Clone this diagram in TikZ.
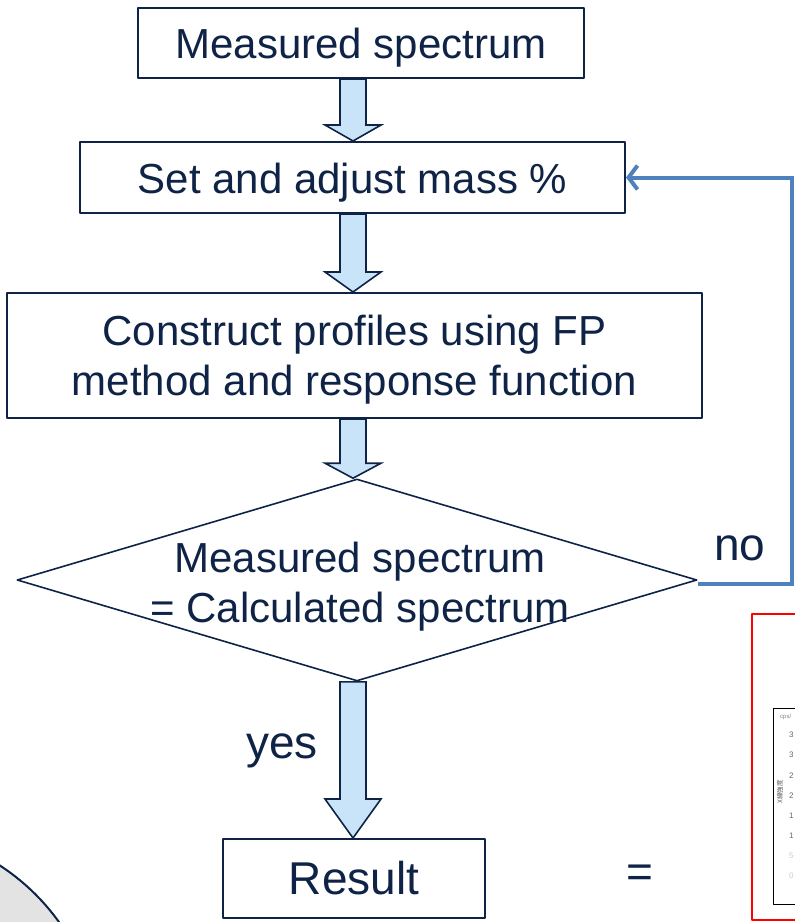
\documentclass[tikz,border=0pt]{standalone}
\usepackage{fontspec}
\setmainfont{Liberation Sans}
\newfontfamily\jpfont{Noto Sans CJK JP}
\usetikzlibrary{calc,shapes.geometric,arrows.meta}
\definecolor{navy}{HTML}{0E2346}
\definecolor{arrowfill}{HTML}{C9E4F8}
\definecolor{loopblue}{HTML}{4F81BD}
\newcommand\droptext[1]{\raisebox{-5pt}[\height][\depth]{#1}}

\begin{document}
\begin{tikzpicture}[x=1pt,y=-1pt,line join=round,
	procbox/.style={draw=navy,line width=2pt,inner sep=0pt,text=navy,align=center,font=\fontsize{42}{50}\selectfont},
	blockarrow/.style={draw=navy,fill=arrowfill,line width=1.6pt,line join=miter},
	lbl/.style={text=navy,inner sep=0pt,font=\fontsize{46}{50}\selectfont}]
	\useasboundingbox (0,0) rectangle (795,922);
	\clip (0,0) rectangle (795,922);
	% disc in the lower left corner
	\draw[navy,line width=2pt,fill=gray!22] (-120,1050) circle (220pt);
	\node[procbox,minimum width=446pt,minimum height=70pt] (meas) at (361,43) {\droptext{Measured spectrum}};
	\node[procbox,minimum width=545pt,minimum height=71pt] (set) at (352.5,177.5) {\droptext{Set and adjust mass \%}};
	\node[procbox,minimum width=695pt,minimum height=125pt] (prof) at (354.5,355.5)
		{\droptext{\begin{tabular}{@{}c@{}}Construct profiles using FP\\method and response function\end{tabular}}};
	\node[procbox,diamond,line width=1.6pt,minimum width=680pt,minimum height=202pt] (cmp) at (357,580) {};
	\node[text=navy,align=center,font=\fontsize{42}{50}\selectfont] (cmptxt) at (360,587) {Measured spectrum\\= Calculated spectrum};
	\node[procbox,minimum width=262pt,minimum height=79pt,font=\fontsize{46}{50}\selectfont] (res) at (354,878.5) {Result};
	\path (353,0) coordinate (axis);
	\foreach \a/\b/\h in {meas/set/16pt,set/prof/20pt,prof/cmp/15pt,cmp/res/39pt}
		\draw[blockarrow] let \p1=(\a.south),\p2=(\b.north),\p3=(axis) in
			(\x3-13pt,\y1) -- (\x3+13pt,\y1) -- (\x3+13pt,\y2+\h) -- (\x3+28pt,\y2+\h)
			-- (\x3,\y2) -- (\x3-28pt,\y2+\h) -- (\x3-13pt,\y2+\h) -- cycle;
	% back to the mass setting
	\draw[loopblue,line width=4pt,line join=miter,-{Straight Barb[length=9pt,width=24pt]}]
		([yshift=-4pt]cmp.east) -- ++(94,0) |- (set.east);
	\node[lbl,anchor=base] (yes) at (282,758) {yes};
	\node[lbl,anchor=base] (no) at (740,560) {no};
	\node[lbl] (eq) at (640,876) {=};
	% cut-off spectrum chart
	\draw[red,line width=2.5pt] (752,614) rectangle (815,920);
	\draw[black,line width=1pt] (773,708) rectangle (815,904);
	\node[text=gray,inner sep=0pt,anchor=west,font=\fontsize{6}{6}\selectfont] (cps) at (780,717) {cps/};
	\foreach \v/\c [count=\i] in {3/gray!80!black,3/gray!80!black,2/gray!80!black,2/gray!80!black,1/gray!80!black,1/gray!80!black,5/gray!40,0/gray!40}
		\node[text=\c,inner sep=0pt,anchor=west,font=\fontsize{8}{8}\selectfont] (tick\i) at (789,715+20.1*\i) {\v};
	\node[rotate=90,inner sep=0pt,text=gray!70!black,font=\jpfont\fontsize{6.5}{7}\selectfont] (ylab) at (780,792) {X線強度};
\end{tikzpicture}
\end{document}
